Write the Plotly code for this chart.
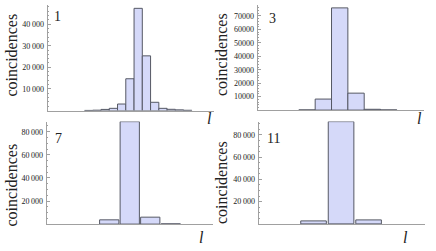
import plotly.graph_objects as go

W, H = 436, 251

# ---- data ----
p1_bins = [-6, -5, -4, -3, -2, -1, 0, 1, 2, 3, 4, 5, 6]
p1_counts = [40, 150, 500, 1000, 3000, 14700, 47300, 25300, 3800, 1000, 550, 300, 100]
p2_bins = [-2, -1, 0, 1, 2, 3]
p2_counts = [150, 8200, 76000, 12600, 600, 150]
p3_bins = [-1, 0, 1, 2]
p3_counts = [3700, 88700, 6000, 200]
p4_bins = [-1, 0, 1]
p4_counts = [2700, 92000, 3600]

panel_labels = ["1", "3", "7", "11"]
p1_ticks = [10000, 20000, 30000, 40000]
p1_ticktext = ["10\u2009000", "20\u2009000", "30\u2009000", "40\u2009000"]
p2_ticks = [10000, 20000, 30000, 40000, 50000, 60000, 70000]
p2_ticktext = ["10000", "20000", "30000", "40000", "50000", "60000", "70000"]
p34_ticks = [20000, 40000, 60000, 80000]
p34_ticktext = ["20\u2009000", "40\u2009000", "60\u2009000", "80\u2009000"]
y_title = "coincidences"
x_title = "l"

FILL = "rgb(213,217,249)"
EDGE = "rgb(85,88,100)"
AXC = "rgb(160,160,160)"
FONT = "Times New Roman, Liberation Serif, DejaVu Serif, serif"


def px_x(x):
    return x / W


def px_y(y):
    return 1 - y / H


panels = [
    dict(bins=p1_bins, counts=p1_counts, l=47.5, r=214, top=5, base=110.5,
         xr=[-10.98, 9.18], ymax=48840, bw=1.0, tv=p1_ticks, tt=p1_ticktext, minor=2000),
    dict(bins=p2_bins, counts=p2_counts, l=257.5, r=424, top=5, base=110.1,
         xr=[-5.03, 5.16], ymax=78140, bw=1.0, tv=p2_ticks, tt=p2_ticktext, minor=2000),
    dict(bins=p3_bins, counts=p3_counts, l=46.7, r=213, top=121.5, base=224.1,
         xr=[-4.05, 4.06], ymax=88830, bw=0.94, tv=p34_ticks, tt=p34_ticktext, minor=5000),
    dict(bins=p4_bins, counts=p4_counts, l=258.5, r=425, top=121.5, base=223.9,
         xr=[-3.0, 3.05], ymax=92100, bw=0.93, tv=p34_ticks, tt=p34_ticktext, minor=5000),
]

fig = go.Figure()
layout = dict(
    width=W, height=H, margin=dict(l=0, r=0, t=0, b=0),
    paper_bgcolor="white", plot_bgcolor="rgba(0,0,0,0)",
    showlegend=False, font=dict(family=FONT, color="#222"),
)

annotations = []
for i, p in enumerate(panels):
    n = "" if i == 0 else str(i + 1)
    fig.add_trace(go.Bar(
        x=p["bins"], y=p["counts"], width=p["bw"],
        marker=dict(color=FILL, line=dict(color=EDGE, width=1)),
        xaxis="x" + n, yaxis="y" + n, cliponaxis=False,
    ))
    layout["xaxis" + n] = dict(
        domain=[px_x(p["l"]), px_x(p["r"])], range=p["xr"], anchor="y" + n,
        showline=True, linecolor=AXC, linewidth=1, showgrid=False, zeroline=False,
        showticklabels=False, ticks="",
    )
    layout["yaxis" + n] = dict(
        domain=[px_y(p["base"]), px_y(p["top"])], range=[0, p["ymax"]], anchor="x" + n,
        showline=True, linecolor=AXC, linewidth=1, showgrid=False, zeroline=False,
        tickmode="array", tickvals=p["tv"], ticktext=p["tt"],
        ticks="inside", ticklen=3, tickcolor=AXC, tickwidth=1,
        tickfont=dict(family=FONT, size=8, color="#222"),
        minor=dict(tickmode="linear", tick0=0, dtick=p["minor"], ticks="inside",
                   ticklen=1.5, tickcolor=AXC),
        ticklabelstandoff=1,
    )

label_pos = [(57, 17), (272, 18), (58, 138), (273, 138)]
for t, (x, y) in zip(panel_labels, label_pos):
    annotations.append(dict(text=t, x=px_x(x), y=px_y(y), xref="paper", yref="paper",
                            showarrow=False, font=dict(family=FONT, size=14, color="#222"),
                            xanchor="center", yanchor="middle"))
ylab_pos = [(10.5, 55), (221, 55), (10.5, 185), (221, 183)]
for (x, y) in ylab_pos:
    annotations.append(dict(text=y_title, x=px_x(x), y=px_y(y), xref="paper", yref="paper",
                            showarrow=False, textangle=-90,
                            font=dict(family=FONT, size=16, color="#222"),
                            xanchor="center", yanchor="middle"))
llab_pos = [(209, 118), (419, 118), (201, 237), (405, 237)]
for (x, y) in llab_pos:
    annotations.append(dict(text="<i>" + x_title + "</i>", x=px_x(x), y=px_y(y),
                            xref="paper", yref="paper", showarrow=False,
                            font=dict(family=FONT, size=16, color="#222"),
                            xanchor="center", yanchor="middle"))

layout["annotations"] = annotations
fig.update_layout(**layout)
fig.write_html("out.html", config={"displayModeBar": False},
               post_script="document.body.style.margin='0';")
